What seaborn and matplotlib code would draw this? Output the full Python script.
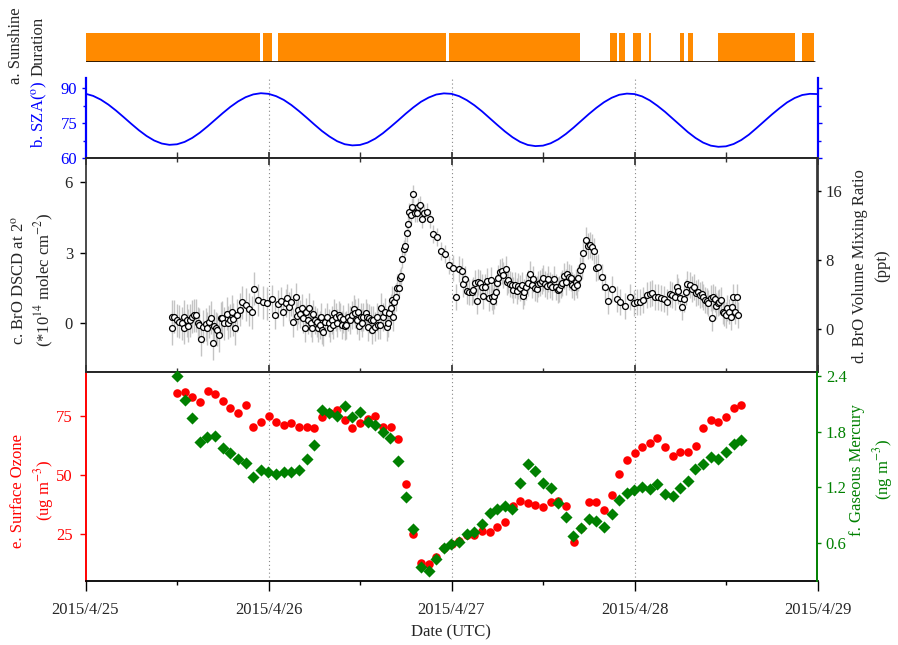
import numpy as np
import pandas as pd
import matplotlib
matplotlib.use("Agg")
import matplotlib.pyplot as plt
import seaborn as sns
from matplotlib.ticker import FixedLocator

sns.set_theme(style="ticks")
plt.rcParams["font.family"] = ["Liberation Serif", "DejaVu Serif"]
plt.rcParams["mathtext.fontset"] = "stix"
plt.rcParams["font.size"] = 12

# ---------------- data ----------------
date_ticks_h = [0, 24, 48, 72, 96]
date_labels = ["2015/4/25", "2015/4/26", "2015/4/27", "2015/4/28", "2015/4/29"]

# sunshine periods (hours since 2015/4/25 00:00 UTC)
sun_start = [0.0, 23.3, 25.3, 47.7, 68.8, 70.0, 71.8, 73.9, 78.0, 79.0, 82.9, 94.0]
sun_end = [22.9, 24.4, 47.3, 64.9, 69.7, 70.7, 72.8, 74.1, 78.5, 79.7, 93.1, 95.6]

# solar zenith angle, hourly
sza_hours = list(range(0, 97))
sza_deg = [
    87.55, 86.62, 85.03, 82.89, 80.33, 77.53, 74.66, 71.90, 69.46, 67.50, 66.20, 65.64,
    65.88, 66.90, 68.61, 70.87, 73.53, 76.38, 79.23, 81.91, 84.23, 86.06, 87.26, 87.77,
    87.5, 86.5, 84.9, 82.7, 80.1, 77.3, 74.4, 71.6, 69.2, 67.2, 65.9, 65.4,
    65.6, 66.6, 68.3, 70.6, 73.3, 76.1, 79.0, 81.7, 84.1, 85.9, 87.2, 87.7,
    87.5, 86.5, 84.8, 82.6, 80.0, 77.1, 74.2, 71.4, 68.9, 66.9, 65.6, 65.1,
    65.3, 66.3, 68.0, 70.3, 73.0, 75.9, 78.8, 81.5, 83.9, 85.8, 87.1, 87.6,
    87.4, 86.4, 84.7, 82.4, 79.8, 76.9, 74.0, 71.1, 68.6, 66.6, 65.3, 64.8,
    65.0, 66.0, 67.7, 70.0, 72.8, 75.7, 78.6, 81.3, 83.8, 85.7, 87.0, 87.5,
    87.4,
]

# BrO DSCD at 2 deg (1e14 molec cm-2)
bro_hours = [
    11.30, 11.39, 11.61, 11.96, 12.26, 12.61, 12.92, 12.96, 13.27, 13.49,
    13.71, 14.01, 14.27, 14.49, 14.71, 14.93, 15.10, 15.45, 15.76, 15.98,
    16.24, 16.46, 16.77, 16.90, 17.07, 17.29, 17.51, 17.73, 17.95, 18.21,
    18.51, 18.73, 18.95, 19.26, 19.39, 19.65, 19.91, 20.26, 20.57, 21.01,
    21.44, 21.88, 22.10, 22.67, 23.32, 23.85, 24.42, 24.90, 25.25, 25.64,
    25.95, 26.25, 26.47, 26.73, 26.95, 27.26, 27.61, 27.69, 27.91, 28.13,
    28.35, 28.57, 28.79, 28.92, 29.22, 29.36, 29.53, 29.75, 29.88, 30.10,
    30.32, 30.54, 30.75, 30.89, 31.06, 31.19, 31.41, 31.63, 31.93, 32.07,
    32.28, 32.50, 32.63, 32.85, 33.03, 33.25, 33.38, 33.60, 33.82, 34.03,
    34.16, 34.47, 34.69, 34.91, 35.21, 35.34, 35.56, 35.78, 35.87, 36.09,
    36.31, 36.44, 36.74, 36.87, 37.01, 37.22, 37.44, 37.62, 37.75, 37.97,
    38.19, 38.41, 38.62, 38.80, 39.06, 39.28, 39.50, 39.72, 39.85, 40.02,
    40.15, 40.37, 40.50, 40.72, 40.90, 41.12, 41.25, 41.38, 41.55, 41.77,
    41.90, 42.12, 42.25, 42.43, 42.69, 42.86, 43.00, 43.21, 43.43, 43.65,
    43.87, 44.09, 44.39, 44.74, 45.18, 45.62, 46.06, 46.62, 47.15, 47.67,
    48.15, 48.59, 48.98, 49.33, 49.55, 49.81, 50.07, 50.34, 50.64, 50.77,
    51.08, 51.30, 51.52, 51.74, 51.95, 52.17, 52.39, 52.61, 52.92, 53.13,
    53.27, 53.48, 53.62, 53.79, 53.92, 54.14, 54.36, 54.58, 54.80, 55.10,
    55.23, 55.45, 55.67, 55.89, 56.11, 56.33, 56.54, 56.76, 56.98, 57.20,
    57.33, 57.51, 57.72, 58.07, 58.29, 58.51, 58.73, 58.95, 59.17, 59.39,
    59.60, 59.82, 60.04, 60.26, 60.48, 60.70, 60.92, 61.13, 61.48, 61.70,
    61.92, 62.10, 62.31, 62.53, 62.75, 62.97, 63.19, 63.41, 63.63, 63.85,
    64.06, 64.28, 64.41, 64.63, 64.85, 65.07, 65.29, 65.59, 65.94, 66.16,
    66.47, 66.69, 66.90, 67.25, 67.69, 68.13, 68.57, 69.00, 69.66, 70.10,
    70.75, 71.41, 71.93, 72.37, 72.72, 73.16, 73.59, 74.03, 74.34, 74.69,
    75.12, 75.47, 75.87, 76.22, 76.65, 76.96, 77.31, 77.53, 77.75, 77.97,
    78.27, 78.53, 78.71, 78.93, 79.28, 79.50, 79.80, 80.06, 80.28, 80.59,
    80.81, 81.03, 81.24, 81.46, 81.68, 81.99, 82.12, 82.34, 82.56, 82.69,
    82.91, 83.12, 83.34, 83.56, 83.78, 83.96, 84.17, 84.39, 84.61, 84.74,
    84.96, 85.18, 85.39, 85.61,
]
bro_dscd = [
    -0.21, 0.28, 0.28, 0.14, 0.07, 0.00, -0.18, 0.28, 0.14, -0.10,
    0.14, 0.28, 0.35, 0.35, 0.00, -0.07, -0.68, -0.14, -0.04, -0.21,
    0.07, 0.24, -0.85, -0.11, -0.21, -0.28, -0.50, 0.21, 0.23, 0.00,
    0.40, 0.03, 0.14, 0.49, 0.17, -0.21, 0.35, 0.57, 0.89, 0.78,
    0.59, 0.47, 1.46, 0.99, 0.89, 0.85, 1.02, 0.37, 0.81, 0.95,
    0.47, 0.85, 1.09, 0.71, 0.89, 0.04, 1.13, 0.31, 0.57, 0.40,
    0.64, 0.21, -0.21, 0.49, 0.14, 0.67, 0.00, -0.21, 0.40, 0.14,
    0.04, -0.21, -0.07, 0.28, -0.28, -0.35, 0.07, 0.28, 0.00, -0.21,
    0.14, -0.07, 0.42, 0.28, 0.00, 0.35, 0.28, -0.07, 0.17, -0.11,
    -0.07, 0.28, 0.14, 0.35, 0.61, 0.42, 0.14, 0.49, -0.10, 0.28,
    0.00, 0.28, 0.42, 0.28, -0.14, 0.21, 0.14, -0.28, 0.14, -0.14,
    0.28, -0.07, -0.07, 0.67, 0.28, 0.49, -0.14, 0.00, 0.42, 0.64,
    0.99, 0.28, 0.92, 1.13, 1.49, 1.52, 1.91, 2.01, 2.72, 3.14,
    3.28, 3.85, 4.22, 4.71, 4.60, 4.95, 5.48, 4.67, 4.70, 4.95,
    5.02, 4.43, 4.70, 4.71, 4.43, 3.79, 3.68, 3.08, 2.94, 2.48,
    2.36, 1.10, 2.29, 2.24, 1.67, 1.88, 1.37, 1.32, 1.32, 1.41,
    1.70, 0.95, 1.77, 1.70, 1.56, 1.16, 1.56, 1.80, 1.06, 1.84,
    1.13, 0.95, 1.16, 1.34, 1.73, 1.91, 2.17, 2.22, 2.05, 2.31,
    1.77, 1.84, 1.67, 1.63, 1.41, 1.63, 1.39, 1.58, 1.49, 1.63,
    1.16, 1.34, 1.56, 1.70, 2.09, 1.63, 1.87, 1.49, 1.44, 1.67,
    1.70, 1.81, 1.91, 1.67, 1.58, 1.87, 1.63, 1.56, 1.88, 1.53,
    1.41, 1.44, 1.63, 1.70, 2.01, 1.77, 2.08, 1.98, 1.91, 1.63,
    1.56, 1.74, 1.63, 1.91, 2.26, 2.43, 2.97, 3.54, 3.28, 3.33,
    3.23, 3.08, 2.33, 2.41, 1.95, 1.53, 0.95, 1.44, 1.02, 0.92,
    0.74, 1.10, 0.85, 0.89, 0.92, 0.99, 1.20, 1.23, 1.27, 1.13,
    1.13, 1.09, 1.03, 0.92, 1.25, 1.20, 1.13, 1.53, 1.37, 1.06,
    0.68, 1.02, 1.32, 1.67, 1.63, 1.44, 1.56, 1.30, 1.34, 1.20,
    1.25, 1.10, 0.99, 0.96, 0.88, 1.06, 0.24, 1.13, 1.02, 0.74,
    0.85, 0.92, 0.99, 0.50, 0.42, 0.35, 0.64, 0.50, 0.28, 0.71,
    1.10, 0.50, 1.13, 0.35,
]
# typical error-bar half length per period
bro_err_break = [0, 24, 41, 48, 64, 97]
bro_err_level = [0.70, 0.60, 0.38, 0.55, 0.55]

# hourly surface ozone (ug m-3) and gaseous mercury (ng m-3)
gas_hours = list(range(12, 87))
ozone = [84.6, 85.2, 83.1, 80.9, 85.5, 84.5, 81.2, 78.2, 76.4, 79.7,
         70.1, 72.6, 75.1, 72.5, 71.3, 71.8, 70.1, 70.1, 69.8, 74.6,
         76.4, 77.7, 73.3, 69.8, 71.9, 73.6, 74.9, 70.1, 70.1, 65.4,
         46.3, 24.9, 12.6, 12.0, 15.3, 18.8, 20.6, 22.0, 24.4, 24.7,
         26.3, 25.8, 27.7, 29.9, 36.7, 39.0, 37.9, 37.1, 36.2, 38.3,
         39.0, 37.0, 21.6, 27.3, 38.7, 38.6, 34.9, 41.5, 50.3, 56.1,
         59.2, 61.7, 63.7, 65.7, 61.9, 57.9, 59.5, 59.6, 62.3, 69.8,
         73.2, 72.5, 74.4, 78.4, 79.5]
mercury = [2.400, 2.137, 1.950, 1.684, 1.738, 1.748, 1.619, 1.572, 1.504, 1.457,
           1.313, 1.381, 1.367, 1.345, 1.363, 1.363, 1.385, 1.504, 1.651, 2.036,
           1.997, 1.968, 2.072, 1.961, 2.011, 1.900, 1.867, 1.799, 1.734, 1.478,
           1.096, 0.748, 0.341, 0.298, 0.424, 0.539, 0.586, 0.611, 0.690, 0.719,
           0.805, 0.920, 0.964, 0.992, 0.960, 1.248, 1.446, 1.378, 1.244, 1.194,
           1.032, 0.881, 0.668, 0.755, 0.859, 0.830, 0.766, 0.910, 1.057, 1.140,
           1.172, 1.205, 1.180, 1.230, 1.129, 1.108, 1.187, 1.266, 1.392, 1.450,
           1.522, 1.500, 1.576, 1.669, 1.705]

assert len(bro_hours) == len(bro_dscd)
assert len(gas_hours) == len(ozone) == len(mercury)
assert len(sza_hours) == len(sza_deg)

# ---------------- figure ----------------
W, H = 898, 645
fig = plt.figure(figsize=(W / 100, H / 100), dpi=100)
L, R = 85.5 / W, 817.5 / W


def box(top_px, bot_px):
    return [L, 1 - bot_px / H, R - L, (bot_px - top_px) / H]


ax_a = fig.add_axes(box(33, 62))
ax_b = fig.add_axes(box(77.5, 158))
ax_c = fig.add_axes(box(158, 372.3))
ax_e = fig.add_axes(box(372.3, 581))
ax_d = ax_c.twinx()
ax_f = ax_e.twinx()

XMIN, XMAX = date_ticks_h[0], date_ticks_h[-1]
minor_h = [h + 12 for h in date_ticks_h[:-1]]
ORANGE = "#ff8a00"
BLUE = "#0000ff"
RED = "#ff0000"
GREEN = "#008000"

# ---- a. sunshine ----
sun_df = pd.DataFrame({"start": sun_start, "end": sun_end})
sun_df["width"] = sun_df["end"] - sun_df["start"]
ax_a.bar(sun_df["start"], np.ones(len(sun_df)), width=sun_df["width"], align="edge",
         color=ORANGE, edgecolor="none")
ax_a.axhline(0, xmin=0, xmax=sun_end[-1] / XMAX, color="#201000", lw=2)
ax_a.set_xlim(XMIN, XMAX)
ax_a.set_ylim(0, 1)
for s in ax_a.spines.values():
    s.set_visible(False)
ax_a.set_xticks([])
ax_a.set_yticks([])
ax_a.patch.set_alpha(0)

# ---- b. SZA ----
sza_df = pd.DataFrame({"h": sza_hours, "sza": sza_deg})
sns.lineplot(data=sza_df, x="h", y="sza", color=BLUE, lw=1.3, ax=ax_b)
ax_b.set_xlim(XMIN, XMAX)
ax_b.set_ylim(60, 94.5)
ax_b.set_yticks([60, 75, 90])
ax_b.yaxis.set_minor_locator(FixedLocator([67.5, 82.5]))
ax_b.spines["top"].set_visible(False)
ax_b.spines["left"].set_color(BLUE)
ax_b.spines["right"].set_color(BLUE)
ax_b.spines["left"].set_linewidth(1.6)
ax_b.spines["right"].set_linewidth(1.6)
ax_b.spines["bottom"].set_color("#333333")
ax_b.tick_params(axis="y", which="both", colors=BLUE, labelsize=12, length=3, width=1,
                 left=True, right=True, labelright=False, pad=3)
ax_b.tick_params(axis="y", which="minor", length=2)
ax_b.set_xticks(date_ticks_h)
ax_b.xaxis.set_minor_locator(FixedLocator(minor_h))
ax_b.tick_params(axis="x", which="both", direction="in", labelbottom=False, length=4,
                 color="#333333")
ax_b.set_xlabel("")
ax_b.set_ylabel("")

# ---- c. BrO ----
bro_df = pd.DataFrame({"h": bro_hours, "dscd": bro_dscd})
idx = np.searchsorted(bro_err_break, bro_df["h"], side="right") - 1
bro_df["err"] = np.array(bro_err_level)[idx]
ax_c.errorbar(bro_df["h"], bro_df["dscd"], yerr=bro_df["err"], fmt="none",
              ecolor="#c4c4c4", elinewidth=1.0, zorder=1)
sns.scatterplot(data=bro_df, x="h", y="dscd", marker="o", s=18, facecolor="white",
                edgecolor="black", linewidth=0.9, ax=ax_c, zorder=3)
ax_c.set_xlim(XMIN, XMAX)
ax_c.set_ylim(-2.08, 7.02)
ax_c.set_yticks([0, 3, 6])
ax_c.set_xticks(date_ticks_h)
ax_c.xaxis.set_minor_locator(FixedLocator(minor_h))
ax_c.tick_params(axis="x", which="both", direction="in", top=True, bottom=True,
                 labelbottom=False, length=5, color="#333333")
ax_c.tick_params(axis="x", which="minor", length=3)
ax_c.tick_params(axis="y", labelsize=12, length=4, width=1, pad=5, color="black")
for s in ax_c.spines.values():
    s.set_color("#333333")
ax_c.set_xlabel("")
ax_c.set_ylabel("")

ax_d.set_ylim(-4.97, 19.8)
ax_d.set_yticks([0, 8, 16])
ax_d.tick_params(axis="y", labelsize=12, length=3, width=1, pad=3, color="black")
ax_d.spines["left"].set_visible(False)
ax_d.spines["right"].set_color("#333333")
ax_d.grid(False)

# ---- e/f. ozone and mercury ----
gas_df = pd.DataFrame({"h": gas_hours, "ozone": ozone, "hg": mercury})
sns.scatterplot(data=gas_df, x="h", y="ozone", marker="o", s=38, color=RED,
                edgecolor=RED, linewidth=0, ax=ax_e, zorder=3)
sns.scatterplot(data=gas_df, x="h", y="hg", marker="D", s=38, color=GREEN,
                edgecolor=GREEN, linewidth=0, ax=ax_f, zorder=3, clip_on=False)
ax_e.set_xlim(XMIN, XMAX)
ax_e.set_ylim(5, 93.5)
ax_e.set_yticks([25, 50, 75])
ax_f.set_ylim(0.187, 2.44)
ax_f.set_yticks([0.6, 1.2, 1.8, 2.4])
ax_f.set_yticklabels(["0.6", "1.2", "1.8", "2.4"])
ax_e.set_xticks(date_ticks_h)
ax_e.set_xticklabels(date_labels)
ax_e.xaxis.set_minor_locator(FixedLocator(minor_h))
ax_e.tick_params(axis="x", which="major", direction="out", length=7, width=1,
                 labelsize=12, pad=8, color="black")
ax_e.tick_params(axis="x", which="minor", direction="out", length=3, width=1,
                 color="black")
ax_e.spines["left"].set_color(RED)
ax_e.spines["left"].set_linewidth(1.4)
ax_e.spines["right"].set_visible(False)
ax_e.spines["top"].set_color("#333333")
ax_e.spines["bottom"].set_color("black")
ax_e.spines["bottom"].set_linewidth(1.3)
ax_e.tick_params(axis="y", colors=RED, labelsize=12, length=4, width=1, pad=5)
ax_f.spines["left"].set_visible(False)
ax_f.spines["top"].set_visible(False)
ax_f.spines["bottom"].set_visible(False)
ax_f.spines["right"].set_color(GREEN)
ax_f.spines["right"].set_linewidth(1.4)
ax_f.tick_params(axis="y", colors=GREEN, labelsize=12, length=3, width=1, pad=3)
for ax in (ax_e, ax_f):
    ax.set_xlabel("")
    ax.set_ylabel("")
    ax.grid(False)

# dotted day separators
for ax in (ax_b, ax_c, ax_e):
    for h in date_ticks_h[1:-1]:
        ax.axvline(h, color="#888888", ls=(0, (1, 2.5)), lw=0.8, zorder=0)


# ---- labels ----
def ftext(x, y, s, **kw):
    fig.text(x / W, 1 - y / H, s, ha="center", va="center", fontsize=12,
             multialignment="center", **kw)


ftext(27, 46, "a. Sunshine\nDuration", rotation=90, linespacing=1.55)
ftext(40, 114, r"b. SZA($^{\rm o}$)", rotation=90, color=BLUE)
ftext(33, 280, "c. BrO DSCD at 2$^{\\rm o}$\n(*10$^{14}$ molec cm$^{-2}$)",
      rotation=90, linespacing=1.3)
ftext(871, 266, "d. BrO Volume Mixing Ratio\n(ppt)", rotation=90, linespacing=1.55)
ftext(33, 491, "e. Surface Ozone\n(ug m$^{-3}$)", rotation=90, color=RED,
      linespacing=1.3)
ftext(872, 470, "f. Gaseous Mercury\n(ng m$^{-3}$)", rotation=90, color=GREEN,
      linespacing=1.35)
ftext(451, 632, "Date (UTC)")

fig.savefig("out.png", dpi=100)
